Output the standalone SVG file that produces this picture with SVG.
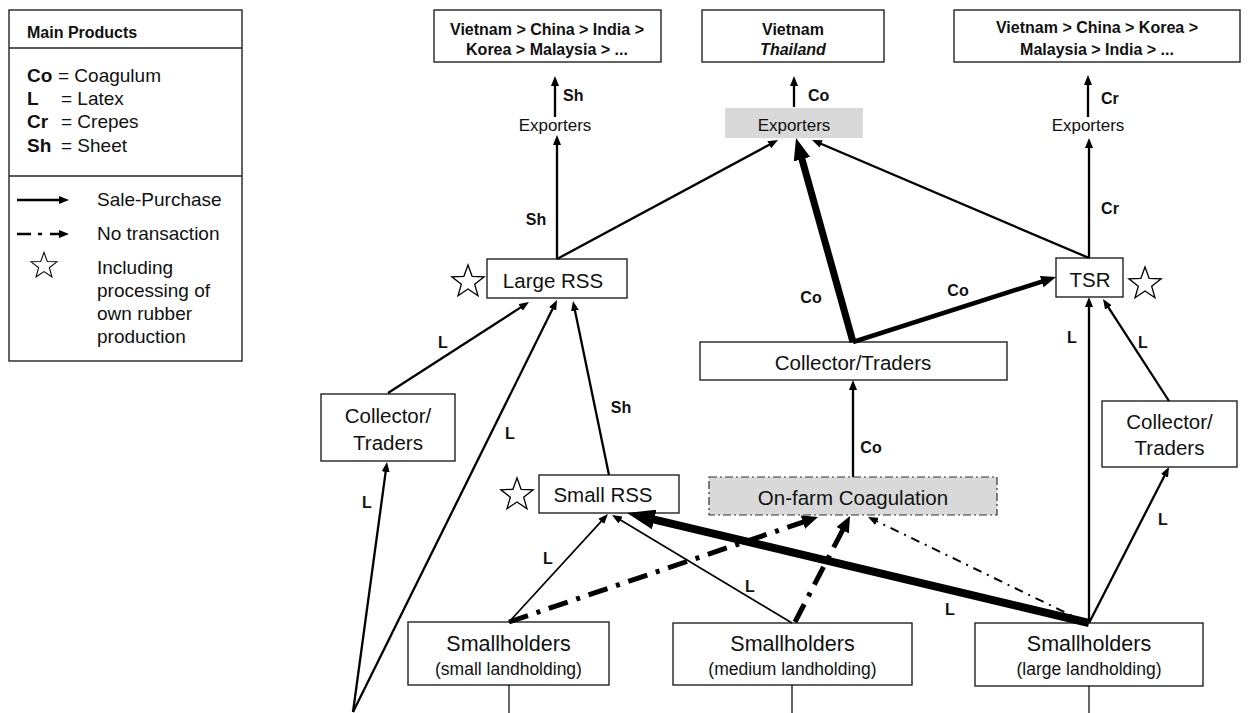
<svg xmlns="http://www.w3.org/2000/svg" width="1248" height="713" viewBox="0 0 1248 713">
<defs>
<style>
text{font-family:"Liberation Sans",Arial,sans-serif;fill:#111}
.box{fill:#fff;stroke:#222;stroke-width:1.4}
.gray{fill:#d9d9d9;stroke:none}
.dd{fill:#d9d9d9;stroke:#333;stroke-width:1.2;stroke-dasharray:8 3 2 3}
.hb{font-size:16px;font-weight:bold}
.leg{font-size:19px}
.nt{font-size:20.5px;text-anchor:middle}
.sh{font-size:21.5px;text-anchor:middle}
.st{font-size:17.5px;text-anchor:middle}
.ex{font-size:17px;text-anchor:middle}
.lb{font-size:16px;font-weight:bold;text-anchor:middle}
.ls{font-size:16px;font-weight:bold}
.tb{font-size:16px;font-weight:bold;text-anchor:middle}
.e{fill:none;stroke:#000;stroke-width:2.3}
.thin{fill:none;stroke:#000;stroke-width:1.7}
.star{fill:#fff;stroke:#000;stroke-width:1.3}
</style>
<marker id="a" markerUnits="userSpaceOnUse" viewBox="0 0 10 8" markerWidth="10" markerHeight="8" refX="1" refY="4" orient="auto"><path d="M0,0L10,4L0,8z" fill="#000"/></marker>
<marker id="b" markerUnits="userSpaceOnUse" viewBox="0 0 22 17" markerWidth="22" markerHeight="17" refX="1" refY="8.5" orient="auto"><path d="M0,0L22,8.5L0,17z" fill="#000"/></marker>
<marker id="c" markerUnits="userSpaceOnUse" viewBox="0 0 15 12" markerWidth="15" markerHeight="12" refX="1" refY="6" orient="auto"><path d="M0,0L15,6L0,12z" fill="#000"/></marker>
<marker id="d" markerUnits="userSpaceOnUse" viewBox="0 0 28 20" markerWidth="28" markerHeight="20" refX="1" refY="10" orient="auto"><path d="M0,0L28,10L0,20z" fill="#000"/></marker>
<marker id="e" markerUnits="userSpaceOnUse" viewBox="0 0 16 14" markerWidth="16" markerHeight="14" refX="1" refY="7" orient="auto"><path d="M0,0L16,7L0,14z" fill="#000"/></marker>
<path id="star" d="M0,-17L4.11,-5.66L16.17,-5.25L6.66,2.16L9.99,13.75L0,7L-9.99,13.75L-6.66,2.16L-16.17,-5.25L-4.11,-5.66Z"/>
</defs>

<g id="legend">
<rect x="9" y="10" width="233" height="351" class="box"/>
<line x1="9" y1="48" x2="242" y2="48" stroke="#222" stroke-width="1.4"/>
<line x1="9" y1="176" x2="242" y2="176" stroke="#222" stroke-width="1.4"/>
<text x="27" y="38" class="hb">Main Products</text>
<text x="27" y="82" class="leg"><tspan font-weight="bold">Co</tspan><tspan x="58">= Coagulum</tspan></text>
<text x="27" y="105" class="leg"><tspan font-weight="bold">L</tspan><tspan x="61">= Latex</tspan></text>
<text x="27" y="128" class="leg"><tspan font-weight="bold">Cr</tspan><tspan x="61">= Crepes</tspan></text>
<text x="27" y="152" class="leg"><tspan font-weight="bold">Sh</tspan><tspan x="61">= Sheet</tspan></text>
<line x1="17" y1="200" x2="60" y2="200" class="e" marker-end="url(#a)"/>
<text x="97" y="206" class="leg">Sale-Purchase</text>
<path d="M17,234H31M38,234H42M50,234H60" class="e" marker-end="url(#a)"/>
<text x="97" y="240" class="leg">No transaction</text>
<use href="#star" class="star" transform="translate(44,266) scale(0.8)"/>
<text x="97" y="274" class="leg">Including</text>
<text x="97" y="297" class="leg">processing of</text>
<text x="97" y="320" class="leg">own rubber</text>
<text x="97" y="343" class="leg">production</text>
</g>

<g id="dest1"><rect x="434" y="10" width="227" height="52" class="box"/><text x="547" y="35" class="tb">Vietnam &gt; China &gt; India &gt;</text><text x="547" y="55" class="tb">Korea &gt; Malaysia &gt; ...</text></g>
<g id="dest2"><rect x="702" y="10" width="182" height="52" class="box"/><text x="793" y="35" class="tb">Vietnam</text><text x="793" y="55" class="tb" font-style="italic">Thailand</text></g>
<g id="dest3"><rect x="954" y="10" width="286" height="52" class="box"/><text x="1097" y="33" class="tb">Vietnam &gt; China &gt; Korea &gt;</text><text x="1097" y="55" class="tb">Malaysia &gt; India &gt; ...</text></g>

<g id="exp1"><text x="555" y="131" class="ex">Exporters</text></g>
<g id="exp2"><rect x="725" y="108" width="138" height="30" class="gray"/><text x="794" y="131" class="ex">Exporters</text></g>
<g id="exp3"><text x="1088" y="131" class="ex">Exporters</text></g>

<g id="largeRSS"><rect x="487" y="259" width="140" height="39" class="box"/><text x="553" y="288" class="nt">Large RSS</text><use href="#star" class="star" transform="translate(468,282)"/></g>
<g id="tsr"><rect x="1056" y="258" width="67" height="39" class="box"/><text x="1090" y="287" class="nt">TSR</text><use href="#star" class="star" transform="translate(1145,284)"/></g>
<g id="collectorMid"><rect x="700" y="342" width="307" height="38" class="box"/><text x="853" y="370" class="nt">Collector/Traders</text></g>
<g id="collectorLeft"><rect x="321" y="394" width="134" height="67" class="box"/><text x="388" y="423" class="nt">Collector/</text><text x="388" y="450" class="nt">Traders</text></g>
<g id="collectorRight"><rect x="1102" y="401" width="135" height="66" class="box"/><text x="1169.5" y="429" class="nt">Collector/</text><text x="1169.5" y="455" class="nt">Traders</text></g>
<g id="smallRSS"><rect x="539" y="475" width="140" height="38" class="box"/><text x="603" y="502" class="nt">Small RSS</text><use href="#star" class="star" transform="translate(517,495)"/></g>
<g id="onfarm"><rect x="709" y="477" width="288" height="38" class="dd"/><text x="853" y="505" class="nt">On-farm Coagulation</text></g>
<g id="shSmall"><rect x="408" y="622" width="201" height="63" class="box"/><text x="508.5" y="651" class="sh">Smallholders</text><text x="508.5" y="675" class="st">(small landholding)</text></g>
<g id="shMedium"><rect x="673" y="623" width="239" height="62" class="box"/><text x="792.5" y="651" class="sh">Smallholders</text><text x="792.5" y="675" class="st">(medium landholding)</text></g>
<g id="shLarge"><rect x="975" y="623" width="228" height="63" class="box"/><text x="1089" y="651" class="sh">Smallholders</text><text x="1089" y="675" class="st">(large landholding)</text></g>

<g id="connectors">
<line x1="555" y1="117" x2="555" y2="85" class="e" marker-end="url(#a)"/>
<line x1="794" y1="107" x2="794" y2="85" class="e" marker-end="url(#a)"/>
<line x1="1088" y1="117" x2="1088" y2="84" class="e" marker-end="url(#a)"/>
<line x1="557" y1="259" x2="557" y2="144" class="e" marker-end="url(#a)"/>
<line x1="557" y1="259" x2="770.1" y2="144.3" class="e" marker-end="url(#a)"/>
<line x1="853" y1="342" x2="801.7" y2="158.2" fill="none" stroke="#000" stroke-width="7" marker-end="url(#b)"/>
<line x1="853" y1="342" x2="1042.7" y2="281.3" fill="none" stroke="#000" stroke-width="4.5" marker-end="url(#c)"/>
<line x1="1089" y1="258" x2="820.3" y2="143.5" class="e" marker-end="url(#a)"/>
<line x1="1089" y1="258" x2="1089" y2="147" class="e" marker-end="url(#a)"/>
<line x1="388" y1="393" x2="521.4" y2="306.9" class="e" marker-end="url(#a)"/>
<line x1="353" y1="712" x2="553" y2="308.1" class="e" marker-end="url(#a)"/>
<line x1="609" y1="475" x2="574.8" y2="309.8" class="e" marker-end="url(#a)"/>
<line x1="353" y1="712" x2="385.8" y2="470.9" class="e" marker-end="url(#a)"/>
<line x1="509" y1="622" x2="601.9" y2="520.6" class="thin" marker-end="url(#a)"/>
<line x1="792" y1="623" x2="619.7" y2="519.6" class="thin" marker-end="url(#a)"/>
<line x1="1089" y1="623" x2="653.3" y2="519.3" fill="none" stroke="#000" stroke-width="8" marker-end="url(#d)"/>
<line x1="509" y1="622" x2="803.8" y2="521.8" fill="none" stroke="#000" stroke-width="5" stroke-dasharray="20 9 4 9" marker-end="url(#e)"/>
<line x1="795" y1="622" x2="843.1" y2="529.3" fill="none" stroke="#000" stroke-width="5" stroke-dasharray="20 9 4 9" marker-end="url(#e)"/>
<line x1="1085" y1="622" x2="876.1" y2="520.9" fill="none" stroke="#000" stroke-width="2" stroke-dasharray="9 6 2 6" marker-end="url(#a)"/>
<line x1="853" y1="477" x2="853" y2="389" class="e" marker-end="url(#a)"/>
<line x1="1089" y1="623" x2="1089" y2="306" class="e" marker-end="url(#a)"/>
<line x1="1089" y1="623" x2="1164.9" y2="475" class="e" marker-end="url(#a)"/>
<line x1="1169" y1="401" x2="1107.9" y2="306.6" class="e" marker-end="url(#a)"/>
<line x1="509" y1="685" x2="509" y2="713" stroke="#000" stroke-width="1.2"/>
<line x1="792" y1="685" x2="792" y2="713" stroke="#000" stroke-width="1.2"/>
<line x1="1089" y1="686" x2="1089" y2="713" stroke="#000" stroke-width="1.2"/>
</g>

<g id="labels">
<text x="563" y="101" class="ls">Sh</text>
<text x="808" y="101" class="ls">Co</text>
<text x="1101" y="104" class="ls">Cr</text>
<text x="536" y="225" class="lb">Sh</text>
<text x="811" y="303" class="lb">Co</text>
<text x="958" y="296" class="lb">Co</text>
<text x="1110" y="214" class="lb">Cr</text>
<text x="443" y="348" class="lb">L</text>
<text x="510" y="439" class="lb">L</text>
<text x="621" y="413" class="lb">Sh</text>
<text x="367" y="508" class="lb">L</text>
<text x="548" y="564" class="lb">L</text>
<text x="750" y="592" class="lb">L</text>
<text x="950" y="615" class="lb">L</text>
<text x="871" y="453" class="lb">Co</text>
<text x="1072" y="343" class="lb">L</text>
<text x="1143" y="348" class="lb">L</text>
<text x="1163" y="525" class="lb">L</text>
</g>
</svg>
